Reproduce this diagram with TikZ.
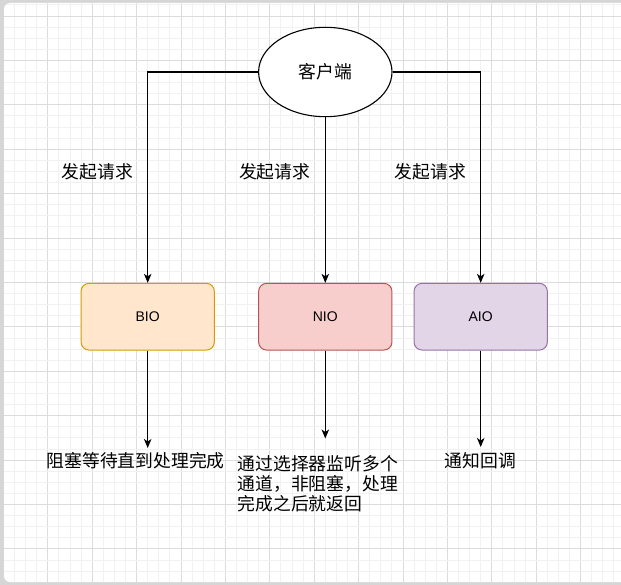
\documentclass[tikz,border=0pt]{standalone}
\usepackage{fontspec}
\setmainfont{Liberation Sans}
\newfontfamily\cjk{Noto Sans CJK SC}
\usetikzlibrary{arrows.meta,shapes.geometric}
\definecolor{bioFill}{HTML}{FFE6CC}
\definecolor{bioLine}{HTML}{D79B00}
\definecolor{nioFill}{HTML}{F8CECC}
\definecolor{nioLine}{HTML}{B85450}
\definecolor{aioFill}{HTML}{E1D5E7}
\definecolor{aioLine}{HTML}{9673A6}
\definecolor{gridMinor}{HTML}{F1F1F1}
\definecolor{gridMajor}{HTML}{DCDCDC}
\definecolor{frameGray}{HTML}{D6D6D6}
\tikzset{
  client/.style={ellipse, draw=black, line width=1.1pt, fill=white, minimum width=133.4pt, minimum height=89.4pt, inner sep=0pt, font=\cjk\fontsize{17.8}{20}\selectfont},
  iobox/.style={rectangle, rounded corners=8pt, line width=1pt, minimum width=133.3pt, minimum height=66.7pt, inner sep=0pt, font=\fontsize{14}{16}\selectfont},
  arr/.style={line width=1.1pt, -{Stealth[length=9pt,width=7.5pt,inset=2.5pt]}},
  lbl/.style={inner sep=0pt, font=\cjk\fontsize{17.8}{20}\selectfont},
}
\begin{document}
\begin{tikzpicture}[x=1pt,y=-1pt]
\useasboundingbox (0,0) rectangle (621,585);
% frame
\fill[frameGray] (0,0) rectangle (621,585);
\fill[white, rounded corners=6pt] (4,3) rectangle (630,582);
\begin{scope}
\clip[rounded corners=6pt] (4,3) rectangle (630,582);
\foreach \i in {0,...,55}{
  \pgfmathsetmacro{\gx}{3.3+11.1*\i}
  \pgfmathtruncatemacro{\mj}{mod(\i,4)}
  \ifnum\mj=0
    \draw[gridMajor, line width=0.8pt] (\gx,0) -- (\gx,585);
  \else
    \draw[gridMinor, line width=0.8pt] (\gx,0) -- (\gx,585);
  \fi
}
\foreach \k in {3,...,54}{
  \pgfmathsetmacro{\gy}{-28.4+11.1*\k}
  \pgfmathtruncatemacro{\mj}{mod(\k,4)}
  \ifnum\mj=0
    \draw[gridMajor, line width=0.8pt] (0,\gy) -- (621,\gy);
  \else
    \draw[gridMinor, line width=0.8pt] (0,\gy) -- (621,\gy);
  \fi
}
\end{scope}
% nodes
\node[client] (client) at (325.3,72) {客户端};
\node[iobox, fill=bioFill, draw=bioLine] (bio) at (147.7,316.7) {BIO};
\node[iobox, fill=nioFill, draw=nioLine] (nio) at (325.3,316.7) {NIO};
\node[iobox, fill=aioFill, draw=aioLine] (aio) at (480.7,316.7) {AIO};
% labels
\node[lbl] (req1) at (97.5,171.7) {发起请求};
\node[lbl] (req2) at (274.7,171.7) {发起请求};
\node[lbl] (req3) at (430.2,171.7) {发起请求};
% connectors
\draw[arr] (client.west) -| (bio.north);
\draw[arr] (client.south) -- (nio.north);
\draw[arr] (client.east) -| (aio.north);
\coordinate (bioEnd) at (147.7,448);
\coordinate (nioEnd) at (325.3,438.5);
\coordinate (aioEnd) at (480.7,447);
\draw[arr] (bio.south) -- (bioEnd);
\draw[arr] (nio.south) -- (nioEnd);
\draw[arr] (aio.south) -- (aioEnd);
% result texts
\node[lbl] (bioText) at (135.7,460.8) {阻塞等待直到处理完成};
\node[lbl, align=left, anchor=base west, font=\cjk\fontsize{17.8}{20}\selectfont] (nioText) at (237.5,510) {通过选择器监听多个\\通道，非阻塞，处理\\完成之后就返回};
\node[lbl] (aioText) at (480.5,461) {通知回调};
\end{tikzpicture}
\end{document}
